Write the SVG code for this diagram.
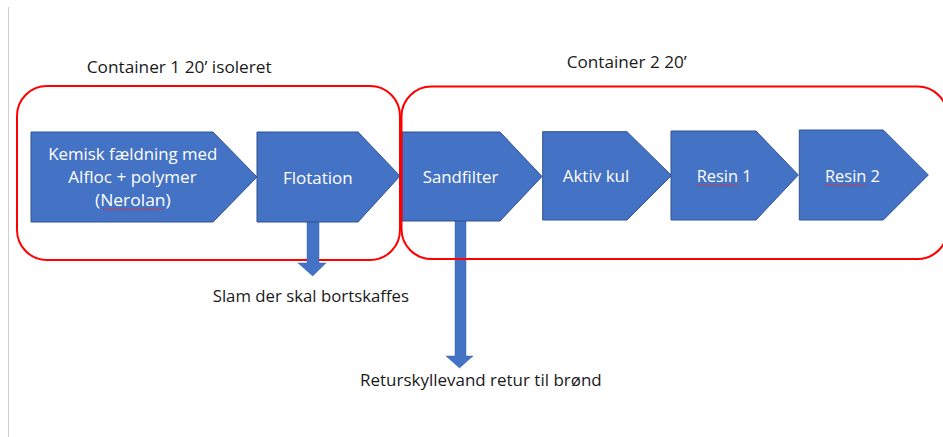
<svg xmlns="http://www.w3.org/2000/svg" width="943" height="437" viewBox="0 0 943 437">
<style>
.step{fill:#4472C4;stroke:#2F528F;stroke-width:1}
.box{fill:none;stroke:#FF0000;stroke-width:2}
.flow{fill:#4472C4;stroke:#3A64B0;stroke-width:0.5}
.nt{font-family:"Open Sans","Liberation Sans",sans-serif;font-size:16.5px;fill:#FFFFFF}
.lt{font-family:"Open Sans","Liberation Sans",sans-serif;font-size:16.5px;fill:#1A1A1A}
.sq{fill:none;stroke:#E03030;stroke-width:0.8}
</style>
<rect x="0" y="0" width="943" height="437" fill="#FFFFFF"/>
<line x1="8.5" y1="7" x2="8.5" y2="437" stroke="#D0D0D0" stroke-width="1"/>

<g id="container1">
<rect class="box" x="17" y="86" width="383" height="174" rx="30" ry="30"/>
<text class="lt" x="86.7" y="72.7" textLength="185" lengthAdjust="spacingAndGlyphs">Container 1 20’ isoleret</text>
</g>

<g id="connectors">
<path class="flow" d="M307,222 H319 V263 H326 L312.7,276 L298,263 H307 Z"/>
<path class="flow" d="M455,221 H466 V356 H473 L459.5,368 L446,356 H455 Z"/>
</g>

<g id="kemisk">
<polygon class="step" points="31,132 213,132 257,177 213,222 31,222"/>
<text class="nt" x="48.3" y="160" textLength="169" lengthAdjust="spacingAndGlyphs">Kemisk fældning med</text>
<text class="nt" x="68.3" y="183.3" textLength="128.4" lengthAdjust="spacingAndGlyphs">Alfloc + polymer</text>
<text class="nt" x="95" y="206" textLength="75.7" lengthAdjust="spacingAndGlyphs">(Nerolan)</text>
<path class="sq" d="M103,208.5 l1.5,1.2 l1.5,-1.2 l1.5,1.2 l1.5,-1.2 l1.5,1.2 l1.5,-1.2 l1.5,1.2 l1.5,-1.2 l1.5,1.2 l1.5,-1.2 l1.5,1.2 l1.5,-1.2 l1.5,1.2 l1.5,-1.2 l1.5,1.2 l1.5,-1.2 l1.5,1.2 l1.5,-1.2 l1.5,1.2 l1.5,-1.2 l1.5,1.2 l1.5,-1.2 l1.5,1.2 l1.5,-1.2 l1.5,1.2 l1.5,-1.2 l1.5,1.2 l1.5,-1.2 l1.5,1.2 l1.5,-1.2 l1.5,1.2 l1.5,-1.2 l1.5,1.2 l1.5,-1.2 l1.5,1.2 l1.5,-1.2 l1.5,1.2 l1.5,-1.2 l1.5,1.2 l1.5,-1.2"/>
</g>

<g id="flotation">
<polygon class="step" points="257,132 358,132 400,176 358,222 257,222"/>
<text class="nt" x="283" y="184" textLength="69.7" lengthAdjust="spacingAndGlyphs">Flotation</text>
</g>

<g id="sandfilter">
<polygon class="step" points="402,132 500,132 542,176.5 500,221 402,221"/>
<text class="nt" x="422.7" y="183.3" textLength="75.6" lengthAdjust="spacingAndGlyphs">Sandfilter</text>
</g>

<g id="aktivkul">
<polygon class="step" points="542.7,131.7 627,131.7 671.5,175.5 627,220 542.7,220"/>
<text class="nt" x="562.7" y="182.3" textLength="66.6" lengthAdjust="spacingAndGlyphs">Aktiv kul</text>
</g>

<g id="resin1">
<polygon class="step" points="671,131 756,131 798.3,175 756,220 671,220"/>
<text class="nt" x="696.7" y="182.3" textLength="55" lengthAdjust="spacingAndGlyphs">Resin 1</text>
<path class="sq" d="M697,184.5 l1.5,1.2 l1.5,-1.2 l1.5,1.2 l1.5,-1.2 l1.5,1.2 l1.5,-1.2 l1.5,1.2 l1.5,-1.2 l1.5,1.2 l1.5,-1.2 l1.5,1.2 l1.5,-1.2 l1.5,1.2 l1.5,-1.2 l1.5,1.2 l1.5,-1.2 l1.5,1.2 l1.5,-1.2 l1.5,1.2 l1.5,-1.2 l1.5,1.2 l1.5,-1.2 l1.5,1.2 l1.5,-1.2 l1.5,1.2 l1.5,-1.2 l1.5,1.2 l1.5,-1.2"/>
</g>

<g id="resin2">
<polygon class="step" points="799.3,130 883.3,130 928.3,175 883.3,220 799.3,220"/>
<text class="nt" x="825" y="182" textLength="55" lengthAdjust="spacingAndGlyphs">Resin 2</text>
<path class="sq" d="M825,184.5 l1.5,1.2 l1.5,-1.2 l1.5,1.2 l1.5,-1.2 l1.5,1.2 l1.5,-1.2 l1.5,1.2 l1.5,-1.2 l1.5,1.2 l1.5,-1.2 l1.5,1.2 l1.5,-1.2 l1.5,1.2 l1.5,-1.2 l1.5,1.2 l1.5,-1.2 l1.5,1.2 l1.5,-1.2 l1.5,1.2 l1.5,-1.2 l1.5,1.2 l1.5,-1.2 l1.5,1.2 l1.5,-1.2 l1.5,1.2 l1.5,-1.2 l1.5,1.2"/>
</g>

<g id="container2">
<rect class="box" x="401.5" y="86.5" width="546" height="172.5" rx="30" ry="30"/>
<text class="lt" x="566.7" y="67.7" textLength="120" lengthAdjust="spacingAndGlyphs">Container 2 20’</text>
</g>

<g id="labels">
<text class="lt" x="212.7" y="301.7" textLength="196.3" lengthAdjust="spacingAndGlyphs">Slam der skal bortskaffes</text>
<text class="lt" x="360" y="386" textLength="241.7" lengthAdjust="spacingAndGlyphs">Returskyllevand retur til brønd</text>
</g>
</svg>
